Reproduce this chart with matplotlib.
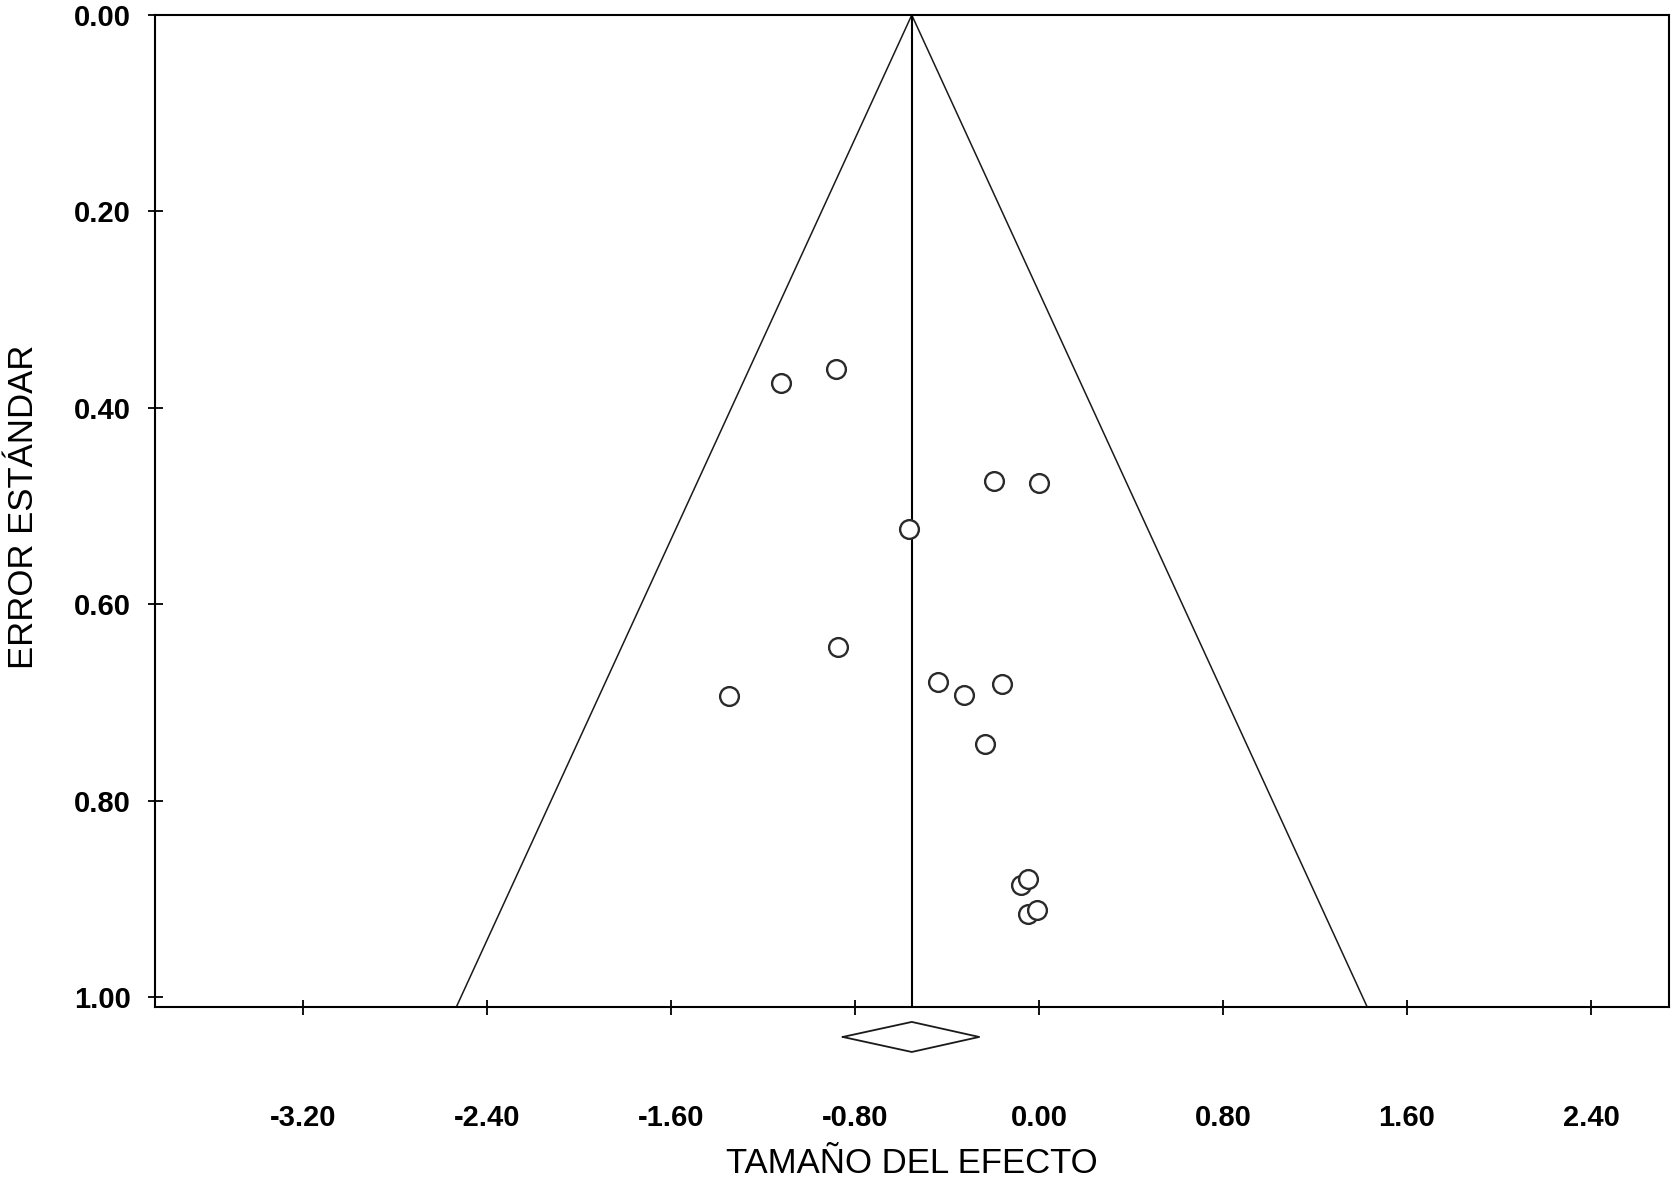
import numpy as np
import matplotlib
matplotlib.use("Agg")
import matplotlib.pyplot as plt

# study effect sizes and their standard errors
effect_size = [-1.123, -0.883, -0.196, 0.000, -0.565, -0.873, -1.347,
               -0.438, -0.326, -0.160, -0.233, -0.078, -0.047, -0.049, -0.010]
std_error = [0.375, 0.360, 0.475, 0.477, 0.523, 0.644, 0.694,
             0.679, 0.692, 0.681, 0.742, 0.886, 0.880, 0.915, 0.911]

# pooled estimate and its confidence interval
pooled_effect = -0.553
pooled_ci = [-0.853, -0.260]

x_ticks = [-3.20, -2.40, -1.60, -0.80, 0.00, 0.80, 1.60, 2.40]
y_ticks = [0.00, 0.20, 0.40, 0.60, 0.80, 1.00]

x_title = "TAMAÑO DEL EFECTO"
y_title = "ERROR ESTÁNDAR"

plt.rcParams.update({
    'font.family': ['Liberation Sans', 'DejaVu Sans'],
    'font.size': 21,
})

fig = plt.figure(figsize=(16.75, 11.81), dpi=100)
ax = fig.add_axes([155 / 1675, 1 - 1007 / 1181, (1669 - 155) / 1675, (1007 - 15) / 1181])

y_max = 1.0102
ax.set_xlim(-3.843, 2.739)
ax.set_ylim(y_max, 0.0)

# funnel (95% pseudo confidence limits)
z = 1.96
ax.plot([pooled_effect - z * y_max, pooled_effect, pooled_effect + z * y_max],
        [y_max, 0.0, y_max], color='#1a1a1a', linewidth=1.1, zorder=2)
ax.plot([pooled_effect, pooled_effect], [0.0, y_max], color='black', linewidth=1.5, zorder=2)

ax.plot(effect_size, std_error, linestyle='none', marker='o', markersize=13.5,
        markerfacecolor='white', markeredgecolor='#2a2a2a', markeredgewidth=1.7, zorder=5)

# diamond for the pooled effect below the axis
d_y = 1.0407
d_h = 0.0153
ax.plot([pooled_ci[0], pooled_effect, pooled_ci[1], pooled_effect, pooled_ci[0]],
        [d_y, d_y - d_h, d_y, d_y + d_h, d_y], color='#1a1a1a', linewidth=1.3,
        clip_on=False)

ax.set_xticks(x_ticks)
ax.set_xticklabels([f"{v:.2f}" for v in x_ticks])
ax.set_yticks(y_ticks)
ax.set_yticklabels([f"{v:.2f}" for v in y_ticks])

ax.tick_params(axis='both', direction='inout', length=10.8, width=1.3, labelsize=21)
ax.tick_params(axis='x', pad=64.4)
ax.tick_params(axis='y', pad=11.9)
for lab in ax.get_xticklabels() + ax.get_yticklabels():
    lab.set_fontweight('bold')

for s in ax.spines.values():
    s.set_linewidth(1.5)

ax.set_xlabel(x_title, fontsize=25, va='baseline')
ax.xaxis.set_label_coords(0.5, -(1173 - 1007) / 992)
ax.set_ylabel(y_title, fontsize=25, va='baseline')
ax.yaxis.set_label_coords(-(155 - 33) / 1514, 0.504)

fig.savefig("out.png", dpi=100)
